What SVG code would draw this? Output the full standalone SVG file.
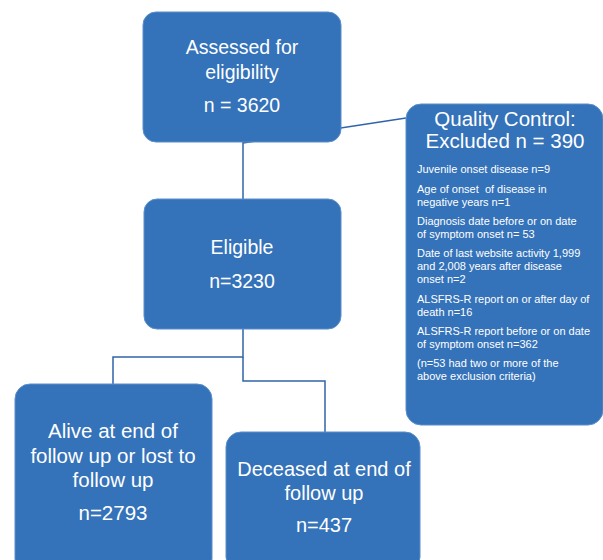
<svg xmlns="http://www.w3.org/2000/svg" width="603" height="560" viewBox="0 0 603 560">
<style>
.box{fill:#3472b9;stroke:#5b8fcb;stroke-width:1}
.t{font-family:"Liberation Sans",Arial,sans-serif;fill:#ffffff;text-anchor:middle}
.big{font-size:19.5px}
.sm{font-family:"Liberation Sans",Arial,sans-serif;fill:#ffffff;font-size:11px}
.c{fill:none;stroke:#2f64a8;stroke-width:1.5}
</style>
<rect width="603" height="560" fill="#ffffff"/>
<g id="connectors">
<polyline class="c" points="243,142 243,199"/>
<polyline class="c" points="243,143 406,118"/>
<polyline class="c" points="243,329 243,357 113,357 113,384"/>
<polyline class="c" points="243,357 243,381 325,381 325,432"/>
</g>
<g id="assessed">
<rect class="box" x="143" y="12" width="198" height="130" rx="13"/>
<text class="t big" x="242" y="54">Assessed for</text>
<text class="t big" x="242" y="79">eligibility</text>
<text class="t big" x="242" y="112">n = 3620</text>
</g>
<g id="quality-control">
<rect class="box" x="406" y="104" width="197" height="321" rx="15"/>
<text class="t" x="505" y="126" font-size="20.5">Quality Control:</text>
<text class="t" x="505" y="148" font-size="20.5">Excluded n = 390</text>
<text class="sm" x="417" y="173">Juvenile onset disease n=9</text>
<text class="sm" x="417" y="193">Age of onset&#160; of disease in</text>
<text class="sm" x="417" y="206">negative years n=1</text>
<text class="sm" x="417" y="225">Diagnosis date before or on date</text>
<text class="sm" x="417" y="238">of symptom onset n= 53</text>
<text class="sm" x="417" y="257">Date of last website activity 1,999</text>
<text class="sm" x="417" y="270">and 2,008 years after disease</text>
<text class="sm" x="417" y="283">onset n=2</text>
<text class="sm" x="417" y="303">ALSFRS-R report on or after day of</text>
<text class="sm" x="417" y="316">death n=16</text>
<text class="sm" x="417" y="335">ALSFRS-R report before or on date</text>
<text class="sm" x="417" y="348">of symptom onset n=362</text>
<text class="sm" x="417" y="367">(n=53 had two or more of the</text>
<text class="sm" x="417" y="380">above exclusion criteria)</text>
</g>
<g id="eligible">
<rect class="box" x="144" y="199" width="197" height="130" rx="13"/>
<text class="t big" x="242" y="254">Eligible</text>
<text class="t big" x="242" y="288">n=3230</text>
</g>
<g id="alive">
<rect class="box" x="15" y="384" width="197" height="190" rx="15"/>
<text class="t" x="113" y="438" font-size="20.5">Alive at end of</text>
<text class="t" x="113" y="463" font-size="20.5">follow up or lost to</text>
<text class="t" x="113" y="487" font-size="20.5">follow up</text>
<text class="t" x="113" y="520" font-size="20.5">n=2793</text>
</g>
<g id="deceased">
<rect class="box" x="226" y="432" width="194" height="140" rx="15"/>
<text class="t" x="324" y="476" font-size="20">Deceased at end of</text>
<text class="t" x="324" y="500" font-size="20">follow up</text>
<text class="t" x="324" y="532" font-size="20">n=437</text>
</g>
</svg>
